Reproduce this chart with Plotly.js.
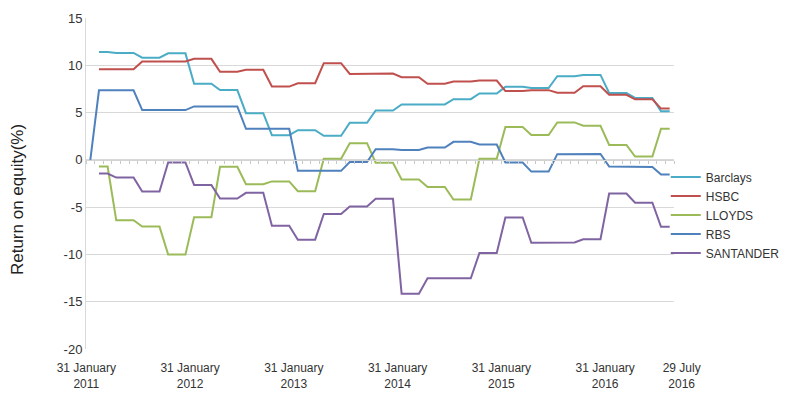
<!DOCTYPE html>
<html>
<head>
<meta charset="utf-8">
<script src="https://cdn.plot.ly/plotly-3.0.1.min.js"></script>
<style>
html,body{margin:0;padding:0;background:#ffffff;}
#chart{width:800px;height:399px;}
</style>
</head>
<body>
<div id="chart"></div>
<script>
// Monthly observations (quarterly figures repeated for each month), Jan 2011 .. Jul 2016
const barclays = [null,
  11.40,11.40, 11.30,11.30,11.30, 10.80,10.80,10.80, 11.26,11.26,11.26,
  8.05,8.05,8.05, 7.38,7.38,7.38, 4.94,4.94,4.94, 2.61,2.61,2.61,
  3.14,3.14,3.14, 2.54,2.54,2.54, 3.92,3.92,3.92, 5.22,5.22,5.22,
  5.86,5.86,5.86, 5.86,5.86,5.86, 6.42,6.42,6.42, 7.02,7.02,7.02,
  7.72,7.72,7.72, 7.60,7.60,7.60, 8.84,8.84,8.84, 8.98,8.98,8.98,
  7.07,7.07,7.07, 6.55,6.55,6.55, 5.13,5.13];
const hsbc = [null,
  9.57,9.57, 9.57,9.57,9.57, 10.40,10.40,10.40, 10.40,10.40,10.40,
  10.68,10.68,10.68, 9.32,9.32,9.32, 9.52,9.52,9.52, 7.75,7.75,7.75,
  8.10,8.10,8.10, 10.22,10.22,10.22, 9.08,9.08,9.08, 9.12,9.12,9.12,
  8.74,8.74,8.74, 8.05,8.05,8.05, 8.28,8.28,8.28, 8.38,8.38,8.38,
  7.27,7.27,7.27, 7.37,7.37,7.37, 7.09,7.09,7.09, 7.78,7.78,7.78,
  6.88,6.88,6.88, 6.40,6.40,6.40, 5.42,5.42];
const lloyds = [null,
  -0.71,-0.71, -6.39,-6.39,-6.39, -7.06,-7.06,-7.06, -10.02,-10.02,-10.02,
  -6.07,-6.07,-6.07, -0.74,-0.74,-0.74, -2.58,-2.58,-2.58, -2.28,-2.28,-2.28,
  -3.32,-3.32,-3.32, 0.12,0.12,0.12, 1.76,1.76,1.76, -0.30,-0.30,-0.30,
  -2.08,-2.08,-2.08, -2.86,-2.86,-2.86, -4.19,-4.19,-4.19, 0.12,0.12,0.12,
  3.47,3.47,3.47, 2.63,2.63,2.63, 3.96,3.96,3.96, 3.61,3.61,3.61,
  1.58,1.58,1.58, 0.35,0.35,0.35, 3.29,3.29];
const rbs = [0,
  7.35,7.35, 7.35,7.35,7.35, 5.26,5.26,5.26, 5.26,5.26,5.26,
  5.65,5.65,5.65, 5.65,5.65,5.65, 3.29,3.29,3.29, 3.29,3.29,3.29,
  -1.16,-1.16,-1.16, -1.16,-1.16,-1.16, -0.23,-0.23,-0.23, 1.13,1.13,1.13,
  1.04,1.04,1.04, 1.31,1.31,1.31, 1.91,1.91,1.91, 1.62,1.62,1.62,
  -0.28,-0.28,-0.28, -1.24,-1.24,-1.24, 0.60,0.60,0.60, 0.63,0.63,0.63,
  -0.71,-0.71,-0.71, -0.76,-0.76,-0.76, -1.55,-1.55];
const santander = [null,
  -1.45,-1.45, -1.87,-1.87,-1.87, -3.35,-3.35,-3.35, -0.28,-0.28,-0.28,
  -2.65,-2.65,-2.65, -4.09,-4.09,-4.09, -3.49,-3.49,-3.49, -6.97,-6.97,-6.97,
  -8.44,-8.44,-8.44, -5.72,-5.72,-5.72, -4.92,-4.92,-4.92, -4.12,-4.12,-4.12,
  -14.16,-14.16,-14.16, -12.52,-12.52,-12.52, -12.52,-12.52,-12.52, -9.85,-9.85,-9.85,
  -6.09,-6.09,-6.09, -8.77,-8.77,-8.77, -8.74,-8.74,-8.74, -8.40,-8.40,-8.40,
  -3.57,-3.57,-3.57, -4.53,-4.53,-4.53, -7.07,-7.07];

const seriesNames = ['Barclays', 'HSBC', 'LLOYDS', 'RBS', 'SANTANDER'];
const seriesValues = [barclays, hsbc, lloyds, rbs, santander];
const seriesColors = ['#4bacc6', '#c0504d', '#9bbb59', '#4f81bd', '#8064a2'];
// x-axis each series is drawn on (all share the same range)
const seriesAxes = ['x', 'x', 'x', 'x2', 'x3'];

// x tick labels (month index positions)
const tickPositions = [0, 12, 24, 36, 48, 60];
const tickLabels = ['31 January<br>2011', '31 January<br>2012', '31 January<br>2013',
                    '31 January<br>2014', '31 January<br>2015', '31 January<br>2016'];
const lastTickPosition = [67];
const lastTickLabel = ['29 July<br>2016'];

// y tick labels
const yTickValues = [-20, -15, -10, -5, 0, 5, 10, 15];
const yTickLabels = ['-20', '-15', '-10', '-5', '0', '5', '10', '15'];
const yTitle = 'Return on equity(%)';

const monthIndex = barclays.map((_, i) => i);
const FONT = 'Liberation Sans, Arial, Helvetica, sans-serif';
const xRange = [-0.5, monthIndex.length - 0.5];

const traces = seriesNames.map((name, k) => ({
  type: 'scatter',
  mode: 'lines',
  name: name,
  x: monthIndex,
  y: seriesValues[k],
  xaxis: seriesAxes[k],
  yaxis: 'y',
  line: {color: seriesColors[k], width: 2},
  connectgaps: false,
  hoverinfo: 'name+y'
}));

const labelFont = {family: FONT, size: 12, color: '#333333'};

const layout = {
  width: 800,
  height: 399,
  margin: {l: 86, r: 126, t: 18, b: 50},
  paper_bgcolor: '#ffffff',
  plot_bgcolor: '#ffffff',
  font: {family: FONT, color: '#333333'},
  showlegend: true,
  legend: {
    x: 0.986, xanchor: 'left',
    y: 0.405, yanchor: 'middle',
    font: labelFont,
    itemwidth: 30,
    tracegroupgap: 0,
    bgcolor: 'rgba(0,0,0,0)'
  },
  annotations: [{
    text: yTitle,
    textangle: -90,
    xref: 'paper', x: (17 - 86) / 588, xanchor: 'center',
    yref: 'paper', y: 0.45, yanchor: 'middle',
    showarrow: false,
    font: {family: FONT, size: 17, color: '#222222'}
  }],
  xaxis: {
    range: xRange,
    tickmode: 'array',
    tickvals: tickPositions,
    ticktext: tickLabels,
    ticks: '',
    ticklabelshift: -4,
    ticklabelstandoff: 10,
    showgrid: false,
    zeroline: false,
    showline: false,
    tickfont: labelFont,
    fixedrange: true
  },
  xaxis2: {
    overlaying: 'x',
    anchor: 'free',
    position: 20 / 35,
    side: 'bottom',
    range: xRange,
    tickmode: 'linear',
    tick0: -0.5,
    dtick: 1,
    ticks: 'outside',
    ticklen: 3,
    tickwidth: 1,
    tickcolor: '#c8c8c8',
    showticklabels: false,
    showline: true,
    linecolor: '#d4d4d4',
    linewidth: 1,
    showgrid: false,
    zeroline: false,
    fixedrange: true
  },
  xaxis3: {
    overlaying: 'x',
    anchor: 'y',
    side: 'bottom',
    range: xRange,
    tickmode: 'array',
    tickvals: lastTickPosition,
    ticktext: lastTickLabel,
    ticks: '',
    ticklabelshift: 12,
    ticklabelstandoff: 10,
    showgrid: false,
    zeroline: false,
    showline: false,
    tickfont: labelFont,
    fixedrange: true
  },
  yaxis: {
    range: [-20, 15],
    tickmode: 'array',
    tickvals: yTickValues,
    ticktext: yTickLabels,
    ticks: '',
    showgrid: true,
    gridcolor: '#d9d9d9',
    gridwidth: 1,
    showline: true,
    linecolor: '#d9d9d9',
    zeroline: false,
    tickfont: {family: FONT, size: 13, color: '#333333'},
    fixedrange: true
  }
};

Plotly.newPlot('chart', traces, layout, {displayModeBar: false, staticPlot: true});
</script>
</body>
</html>
